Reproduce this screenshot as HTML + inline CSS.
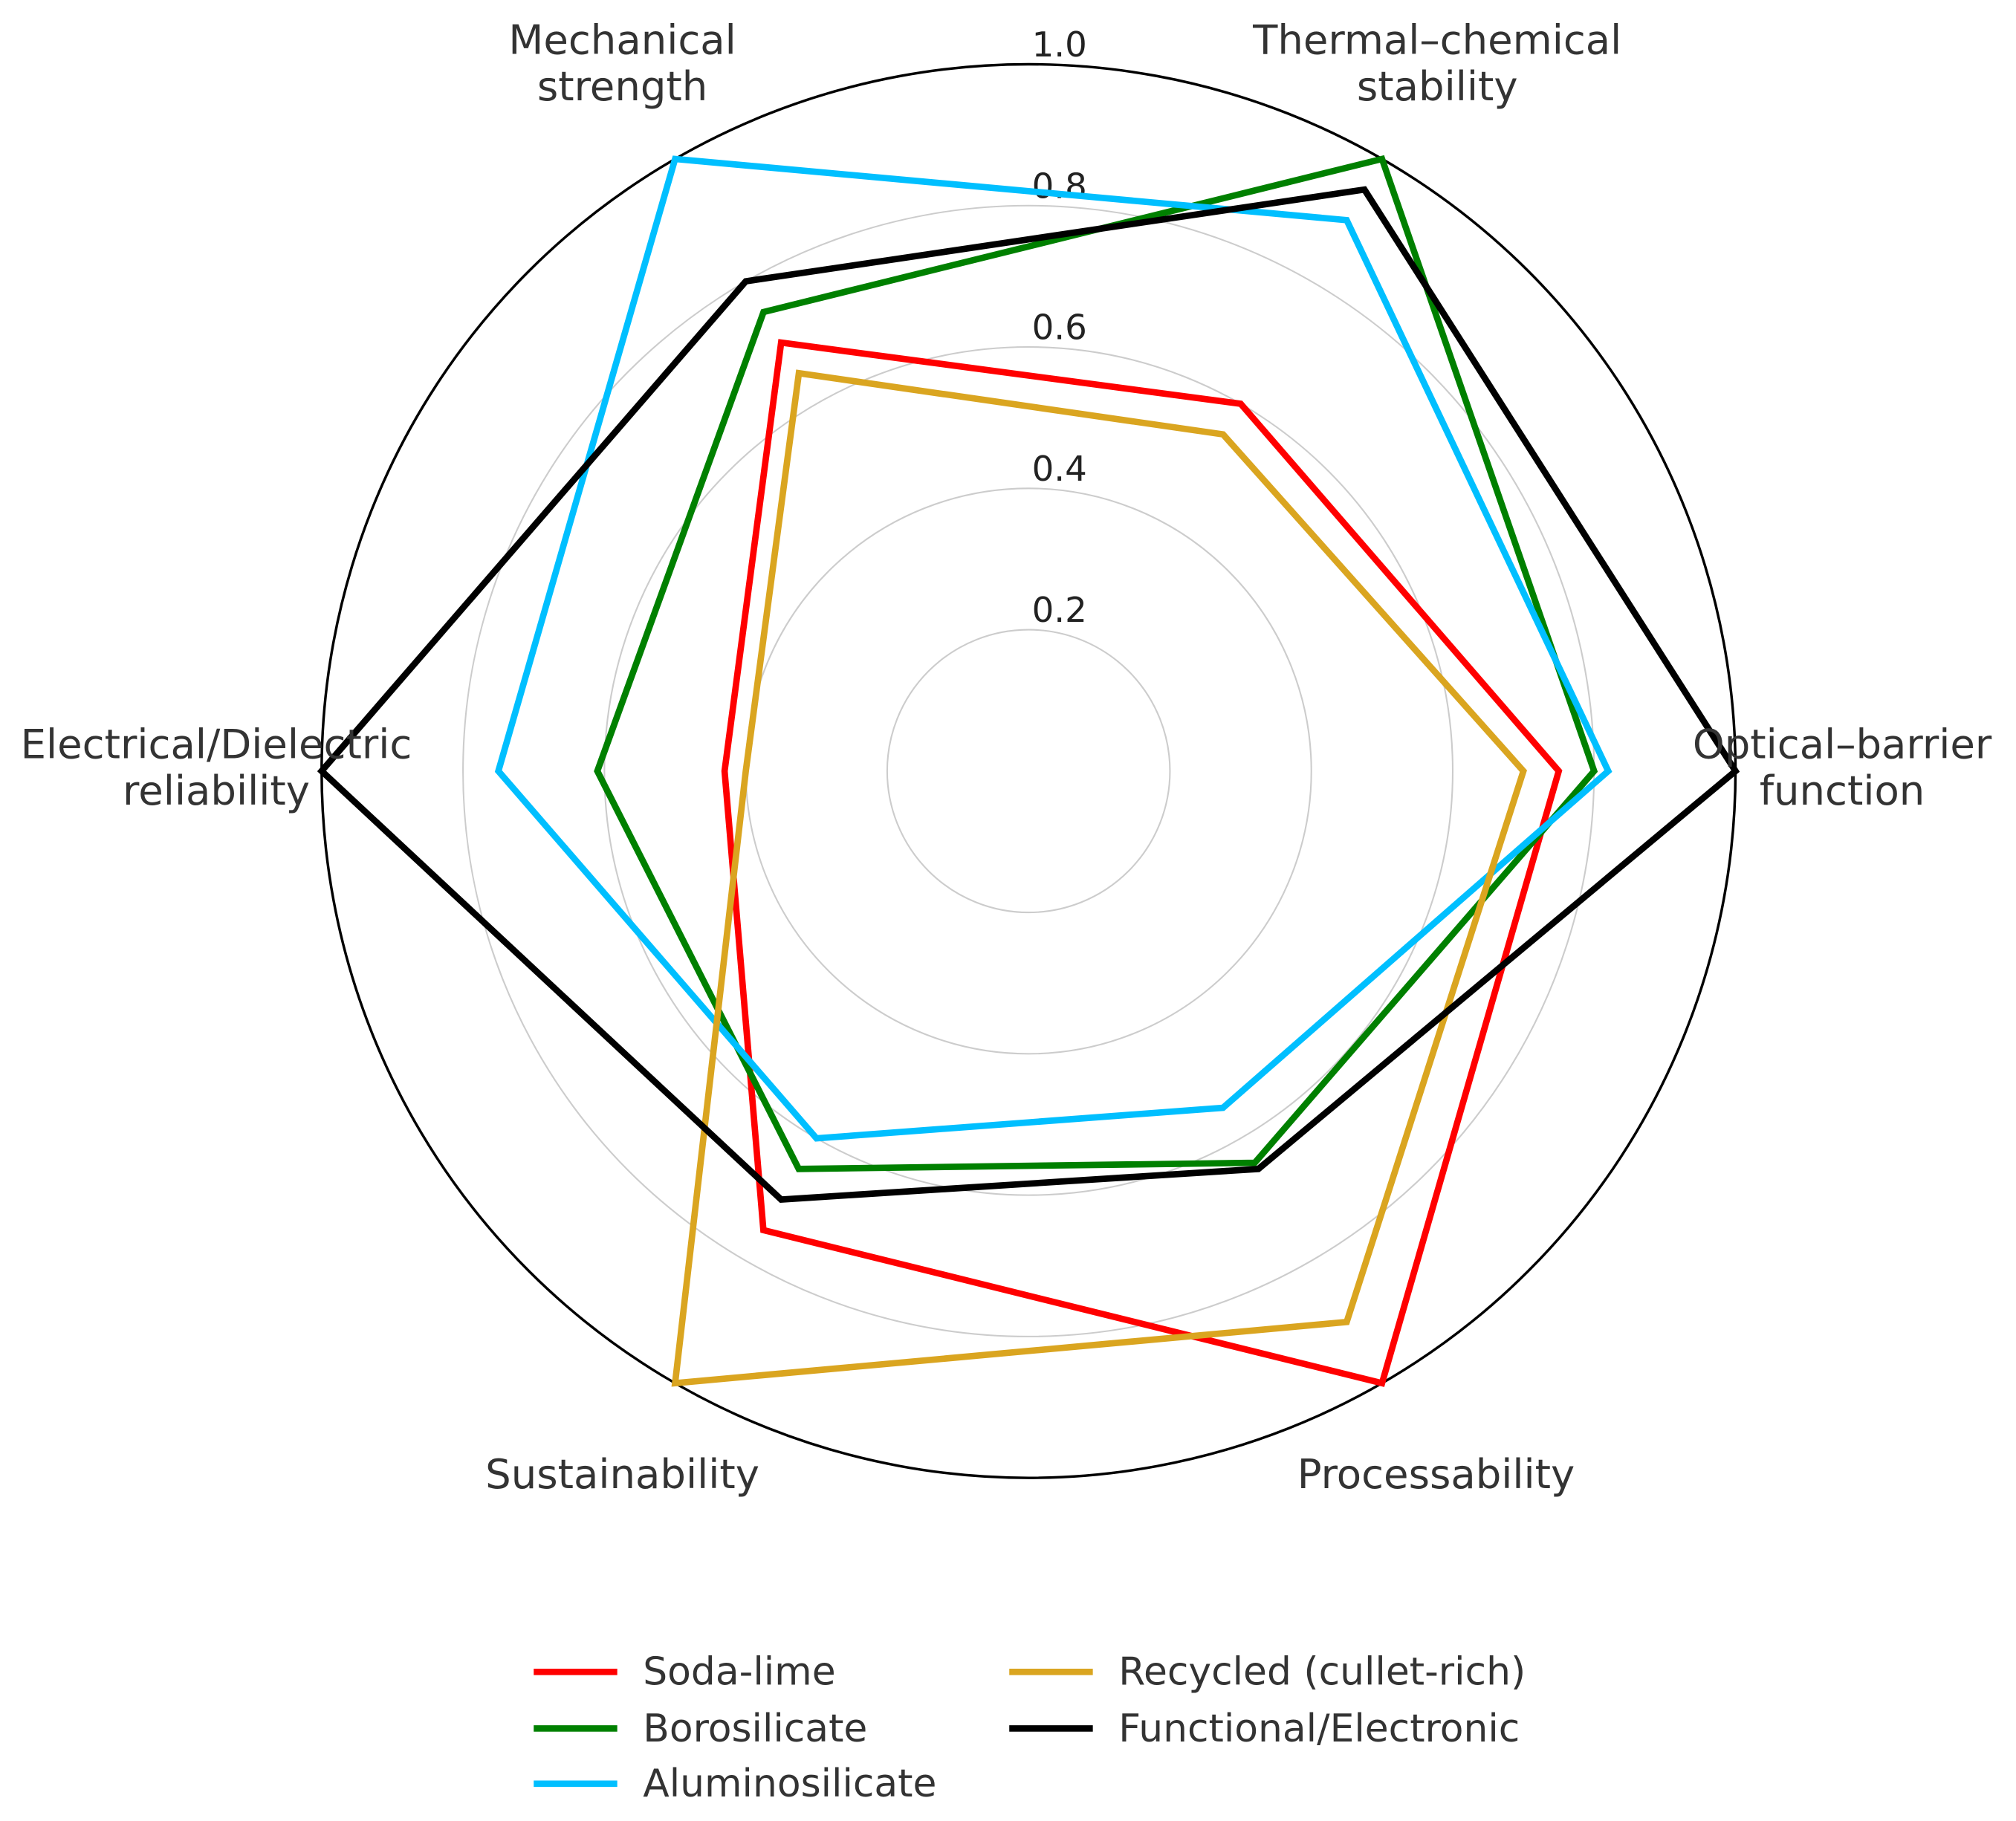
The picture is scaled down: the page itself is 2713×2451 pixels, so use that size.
<!DOCTYPE html>
<html><head><meta charset="utf-8"><style>
html,body{margin:0;padding:0;background:#fff}
svg{display:block}
text{font-family:"DejaVu Sans","Liberation Sans",sans-serif}
</style></head><body>
<svg id="chart" width="2713" height="2451" viewBox="0 0 1568 1417" xmlns="http://www.w3.org/2000/svg"></svg>
<script>
const axes = ["Optical–barrier function","Thermal–chemical stability","Mechanical strength","Electrical/Dielectric reliability","Sustainability","Processability"];
const ticks = [0.2,0.4,0.6,0.8,1.0];
const tickLabels = ["0.2","0.4","0.6","0.8","1.0"];
const seriesNames = ["Soda-lime","Borosilicate","Aluminosilicate","Recycled (cullet-rich)","Functional/Electronic"];
const sodaLime = [0.75,0.6,0.7,0.43,0.75,1.0];
const borosilicate = [0.8,1.0,0.75,0.61,0.65,0.64];
const aluminosilicate = [0.82,0.9,1.0,0.75,0.6,0.55];
const recycled = [0.7,0.55,0.65,0.4,1.0,0.9];
const functional = [1.0,0.95,0.8,1.0,0.7,0.65];
const seriesValues = [sodaLime,borosilicate,aluminosilicate,recycled,functional];
const colors = ["#ff0000","#008000","#00bfff","#daa520","#000000"];

const NS="http://www.w3.org/2000/svg";
const svg=document.getElementById('chart');
const cx=800, cy=600, R=550;
function ang(i){return i*Math.PI/3;}
function px(i,v){return cx+R*v*Math.cos(ang(i));}
function py(i,v){return cy-R*v*Math.sin(ang(i));}
function mk(tag,attrs){const e=document.createElementNS(NS,tag);for(const k in attrs)e.setAttribute(k,attrs[k]);svg.appendChild(e);return e;}

ticks.forEach((t,k)=>{
  const c=mk('circle',{cx:cx,cy:cy,r:R*t,fill:'none',stroke:t===1?'#000':'#cccccc','stroke-width':t===1?2:1.2});
  
  
});
ticks.forEach((t,k)=>{
  const tx=mk('text',{x:cx+24,y:cy-R*t-6,'font-size':27,'text-anchor':'middle',fill:'#222'});
  tx.textContent=tickLabels[k];
  
  
});
seriesValues.forEach((vals,s)=>{
  const pts=vals.map((v,i)=>px(i,v).toFixed(1)+','+py(i,v).toFixed(1)).join(' ');
  const p=mk('polygon',{points:pts,fill:'none',stroke:colors[s],'stroke-width':5,'stroke-linejoin':'miter'});
  
  
});
const labelPos=[[1433,580],[1118,32],[484,32],[168,580],[484,1148],[1117,1148]];
axes.forEach((a,i)=>{
  let lines;
  if(i===0) lines=["Optical–barrier","function"];
  else if(i===1) lines=["Thermal–chemical","stability"];
  else if(i===2) lines=["Mechanical","strength"];
  else if(i===3) lines=["Electrical/Dielectric","reliability"];
  else lines=[a];
  const t=mk('text',{x:labelPos[i][0],y:labelPos[i][1]+10,'font-size':31.5,'text-anchor':'middle',fill:'#333'});
  lines.forEach((l,j)=>{const ts=document.createElementNS(NS,'tspan');ts.setAttribute('x',labelPos[i][0]);ts.setAttribute('dy',j?36:0);ts.textContent=l;t.appendChild(ts);});
  
  
});
const legPos=[[415,1301],[415,1345],[415,1388],[785,1301],[785,1345]];
seriesNames.forEach((n,s)=>{
  const [lx,ly]=legPos[s];
  const l=mk('line',{x1:lx,y1:ly,x2:lx+65,y2:ly,stroke:colors[s],'stroke-width':5});
  
  
  const t=mk('text',{x:lx+85,y:ly+10,'font-size':30,fill:'#333'});
  t.textContent=n;
  
  
});
</script>
</body></html>
